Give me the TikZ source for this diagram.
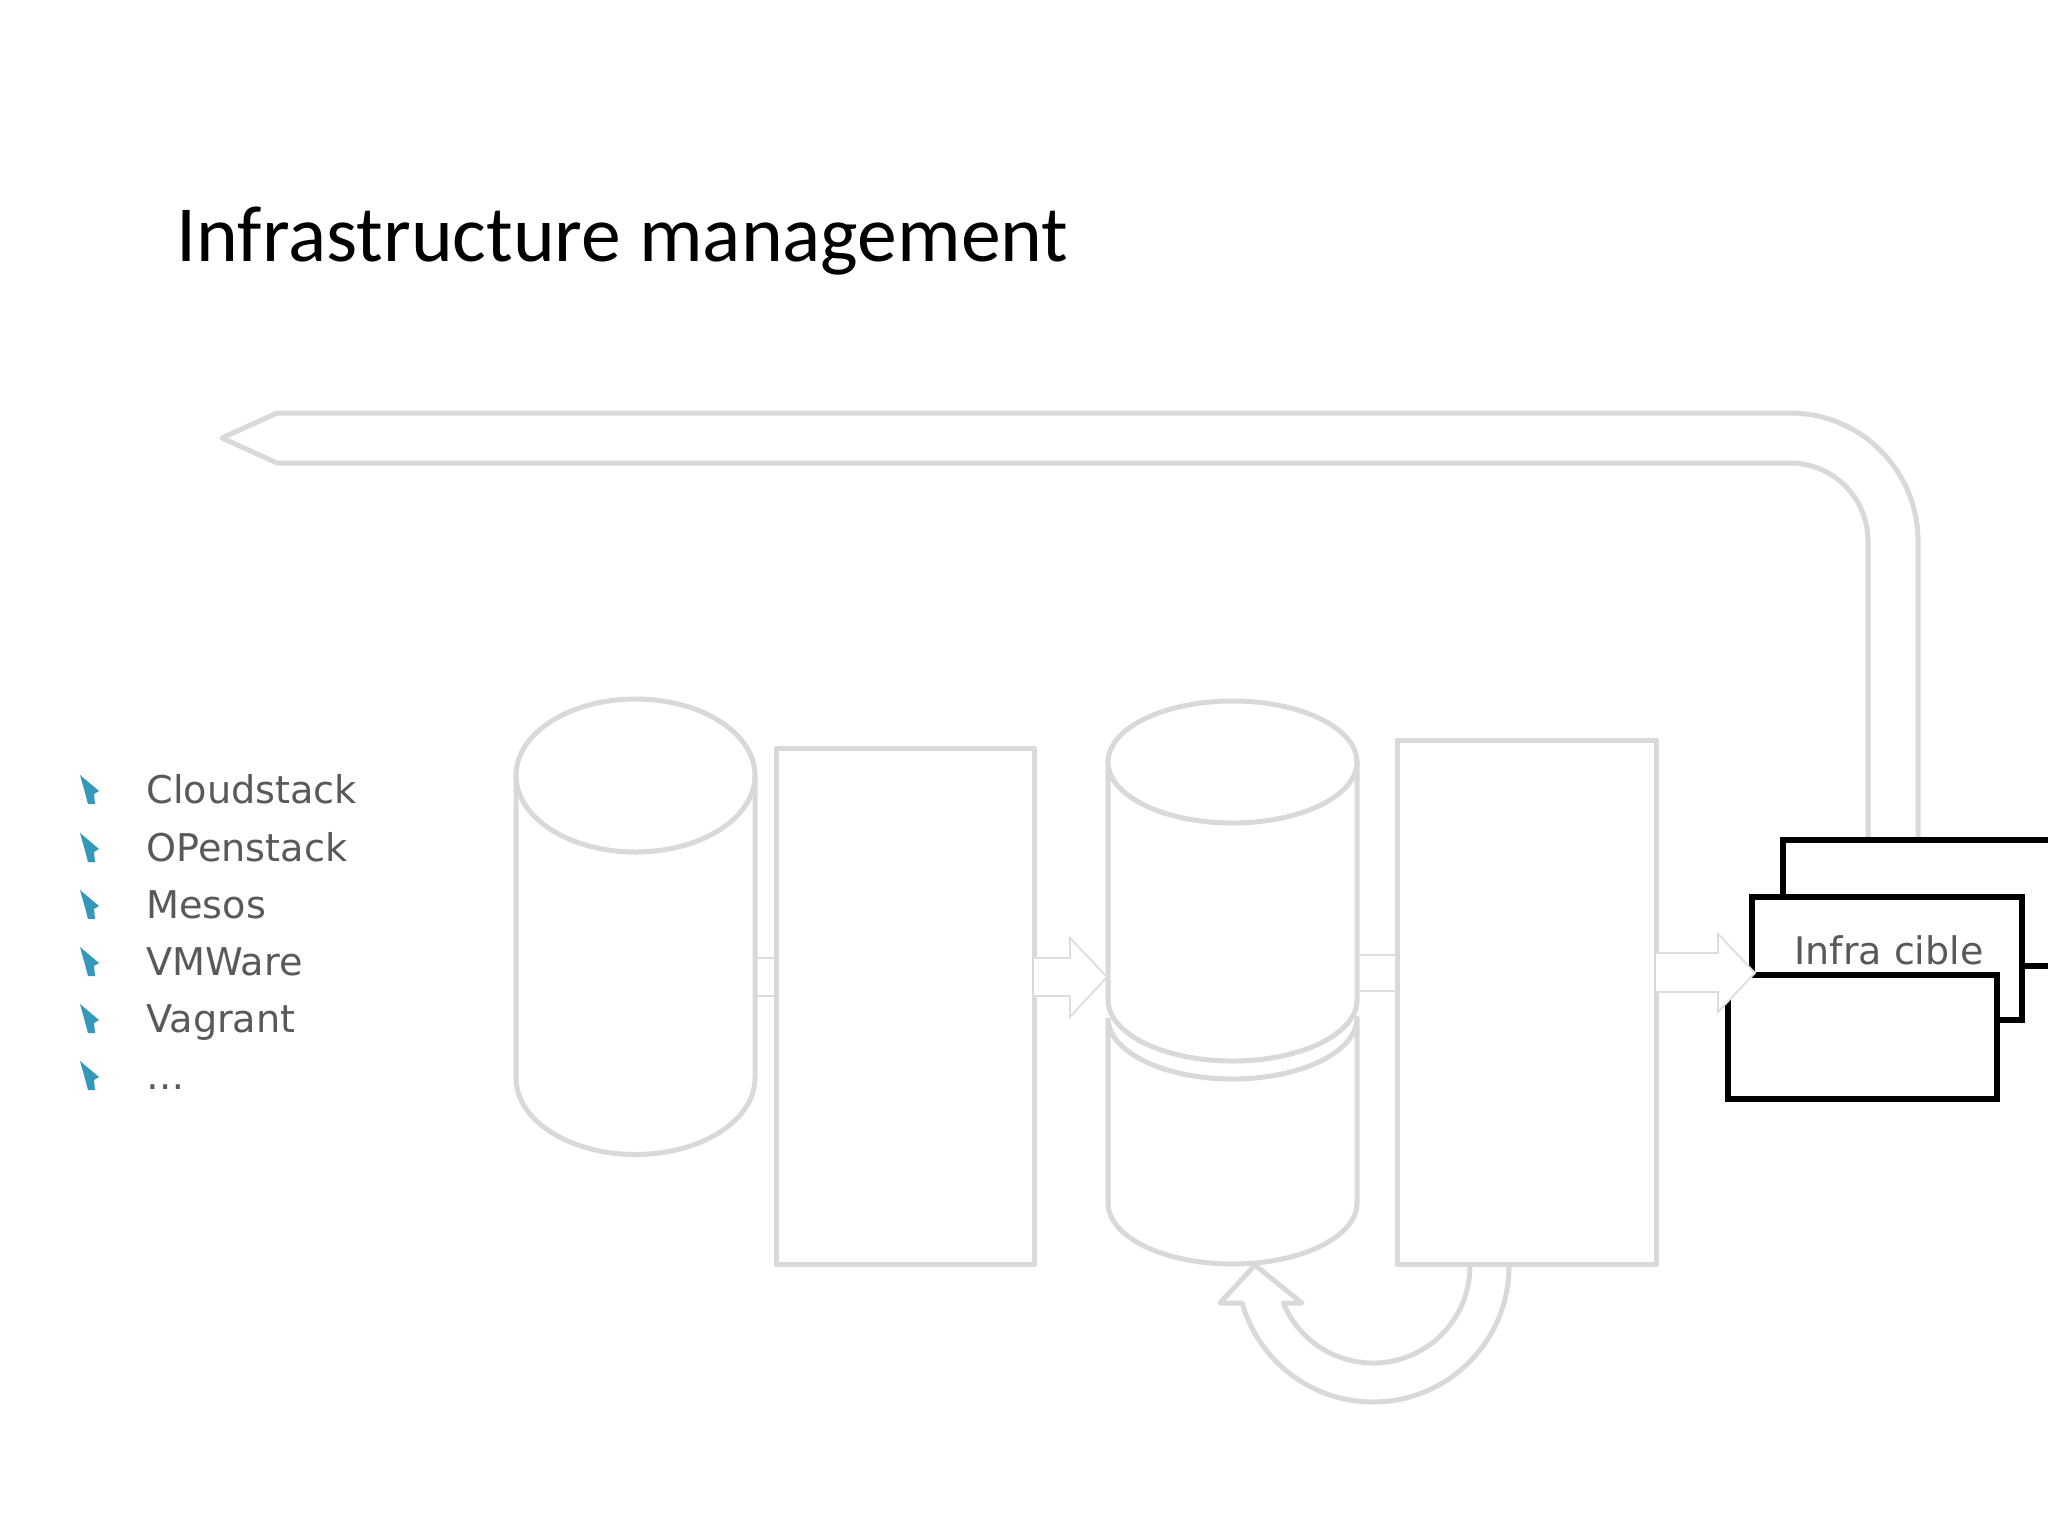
\documentclass[tikz,border=0pt]{standalone}
\usepackage{fontspec}
\newfontfamily\titlefont{Carlito}
\newfontfamily\listfont{DejaVu Sans}
\definecolor{linegray}{HTML}{D9D9D9}
\definecolor{thingray}{HTML}{DDDDDD}
\definecolor{textgray}{HTML}{595959}
\definecolor{bulletteal}{HTML}{3398BA}
\begin{document}
\begin{tikzpicture}[x=0.5pt,y=-0.5pt,
  grayline/.style={draw=linegray, line width=2.5pt, line join=round},
  grayrect/.style={grayline, fill=white, rectangle, inner sep=0pt, outer sep=0pt},
  thinarrow/.style={draw=thingray, line width=0.9pt, fill=white, line join=miter},
  blackrect/.style={draw=black, line width=2.6pt, fill=white, rectangle, inner sep=0pt, outer sep=0pt},
  listitem/.style={anchor=base west, inner sep=0pt, text=textgray, font=\listfont\fontsize{19.1pt}{23pt}\selectfont},
  bulletmark/.style={fill=bulletteal}
]
\useasboundingbox (0,0) rectangle (2048,1536);
\fill[white] (0,0) rectangle (2048,1536);
\clip (0,0) rectangle (2048,1536);

% title
\node[anchor=base west, inner sep=0pt, font=\titlefont\fontsize{39.8pt}{48pt}\selectfont] (title) at (176,261) {Infrastructure management};

% list
\foreach \txt/\b [count=\i] in {Cloudstack/803, OPenstack/861, Mesos/918, VMWare/975, Vagrant/1032, {\dots}/1089}{
  \fill[bulletmark] (80,\b-28) -- (99,\b-12) -- (94,\b-9) -- (95,\b+1) -- (88,\b+1) -- (84,\b-14) -- cycle;
  \node[listitem] (item\i) at (146,\b) {\txt};
}

% big return arrow
\coordinate (retIn) at (1868,838);
\coordinate (retOut) at (1918,838);
\coordinate (retTip) at (222,438);
\draw[grayline] (retIn) -- (1868,541) arc[start angle=0,end angle=-90,radius=78]
  -- (277,463) -- (retTip) -- (277,413) -- (1790,413)
  arc[start angle=-90,end angle=0,radius=128] -- (retOut);

% cylinder 1
\draw[grayline, fill=white] (516,775.5) -- (516,1078)
  arc[start angle=180,end angle=0,x radius=119.5,y radius=76.5] -- (755,775.5);
\draw[grayline] (635.5,775.5) ellipse[x radius=119.5, y radius=76.5];
\coordinate (cyl1) at (635.5,965);

% box 1
\node[grayrect, minimum width=129pt, minimum height=258pt] (box1) at (905,1006) {};

% cylinder 2 (lower segment)
\draw[grayline, fill=white] (1108,1018) -- (1108,1203)
  arc[start angle=180,end angle=0,x radius=124.5,y radius=61] -- (1357,1018)
  arc[start angle=0,end angle=180,x radius=124.5,y radius=61];
% cylinder 2 (upper segment)
\draw[grayline, fill=white] (1108,762) -- (1108,1000)
  arc[start angle=180,end angle=0,x radius=124.5,y radius=61] -- (1357,762);
\draw[grayline] (1232.5,762) ellipse[x radius=124.5, y radius=61];
\coordinate (cyl2) at (1232.5,1264);

% box 2
\node[grayrect, minimum width=129.5pt, minimum height=262pt] (box2) at (1526.5,1002) {};

% connectors
\draw[thinarrow] (755,958) -- (776,958);
\draw[thinarrow] (755,996) -- (776,996);
\draw[thinarrow] (1357,955) -- (1397,955);
\draw[thinarrow] (1357,991) -- (1397,991);
\path[thinarrow] (1034,958) -- (1070,958) -- (1070,938) -- (1107,977) -- (1070,1017) -- (1070,996) -- (1034,996);

% loop arrow under box 2
\draw[grayline] (1509,1264) -- (1509,1266)
  arc[start angle=0,end angle=164.2,radius=136] -- (1220,1303) -- (1255,1265)
  -- (1302,1303) -- (1283.3,1303)
  arc[start angle=157.6,end angle=0,radius=97] -- (1470,1264);

% infra cible stack
\node[blackrect, minimum width=143.5pt, minimum height=63pt] (back) at (1926.5,903) {};
\node[blackrect, minimum width=135pt, minimum height=61.5pt] (mid) at (1887,958.5) {};
\node[anchor=base, inner sep=0pt, text=textgray, font=\listfont\fontsize{19pt}{23pt}\selectfont] (infra) at (1889,964) {Infra cible};
\node[blackrect, minimum width=134.5pt, minimum height=62pt] (front) at (1862.5,1037) {};

% arrow box2 -> infra
\path[thinarrow] (1656,953) -- (1718,953) -- (1718,934) -- (1755,973) -- (1718,1012) -- (1718,992) -- (1656,992);
\end{tikzpicture}
\end{document}
